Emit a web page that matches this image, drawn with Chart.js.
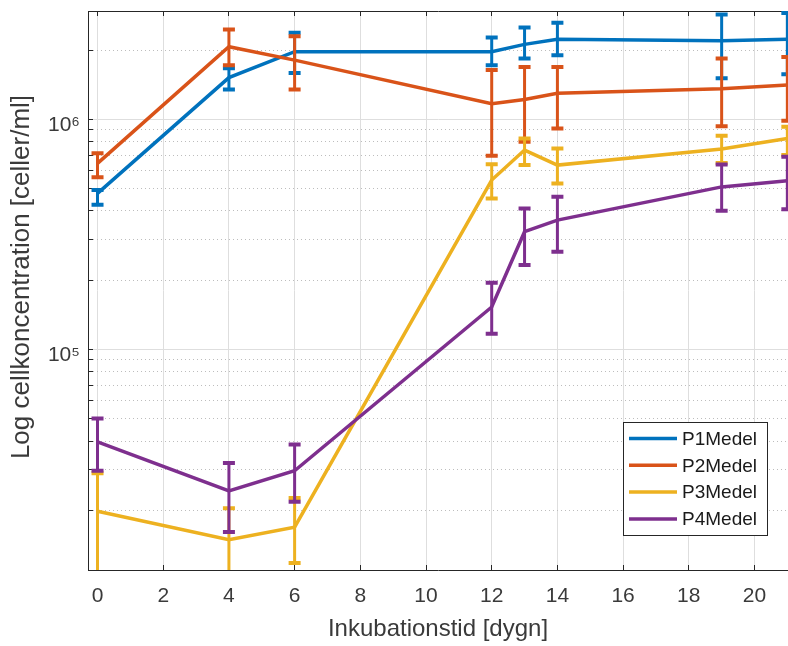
<!DOCTYPE html>
<html>
<head>
<meta charset="utf-8">
<script src="https://cdn.jsdelivr.net/npm/chart.js@4.4.1/dist/chart.umd.min.js"></script>
<style>
  html, body { margin: 0; padding: 0; background: #ffffff; }
  #wrap { width: 788px; height: 646px; }
</style>
</head>
<body>
<div id="wrap"><canvas id="chart" width="788" height="646"></canvas></div>
<script>
// Incubation days
const days = [0, 4, 6, 12, 13, 14, 19, 21];

// Series names
const seriesNames = ['P1Medel', 'P2Medel', 'P3Medel', 'P4Medel'];

// Mean cell concentration (cells/ml) and error-bar limits per series
const p1Mean = [4.77e5, 1.52e6, 1.97e6, 1.97e6, 2.12e6, 2.23e6, 2.20e6, 2.23e6];
const p1Low  = [4.26e5, 1.35e6, 1.59e6, 1.72e6, 1.84e6, 1.90e6, 1.51e6, 1.57e6];
const p1High = [4.93e5, 1.67e6, 2.38e6, 2.27e6, 2.51e6, 2.63e6, 2.86e6, 2.90e6];

const p2Mean = [6.44e5, 2.07e6, 1.81e6, 1.17e6, 1.22e6, 1.30e6, 1.36e6, 1.41e6];
const p2Low  = [5.60e5, 1.72e6, 1.35e6, 6.95e5, 7.99e5, 9.14e5, 9.35e5, 9.86e5];
const p2High = [7.12e5, 2.46e6, 2.30e6, 1.64e6, 1.69e6, 1.69e6, 1.84e6, 1.87e6];

const p3Mean = [1.98e4, 1.49e4, 1.69e4, 5.45e5, 7.36e5, 6.33e5, 7.43e5, 8.27e5];
const p3Low  = [1.07e4, 9.5e3,  1.18e4, 4.53e5, 6.33e5, 5.27e5, 6.46e5, 7.00e5];
const p3High = [2.90e4, 2.04e4, 2.26e4, 6.39e5, 8.27e5, 7.48e5, 8.49e5, 9.29e5];

const p4Mean = [3.97e4, 2.43e4, 2.97e4, 1.53e5, 3.25e5, 3.65e5, 5.09e5, 5.41e5];
const p4Low  = [2.97e4, 1.61e4, 2.18e4, 1.17e5, 2.33e5, 2.66e5, 4.01e5, 4.07e5];
const p4High = [5.01e4, 3.21e4, 3.86e4, 1.95e5, 4.10e5, 4.61e5, 6.37e5, 6.88e5];

// Axis ticks
const xTickValues = [0, 2, 4, 6, 8, 10, 12, 14, 16, 18, 20];
const yTickValues = [2e4, 3e4, 4e4, 5e4, 6e4, 7e4, 8e4, 9e4,
                     1e5, 2e5, 3e5, 4e5, 5e5, 6e5, 7e5, 8e5, 9e5,
                     1e6, 2e6];
const yDecades = [1e5, 1e6];
const yDecadeLabels = ['10\u2075', '10\u2076'];

// Axis limits
const xMin = -0.29, xMax = 21.02;
const yMin = 1.1e4, yMax = 2.96e6;

const colors = ['#0072BD', '#D95319', '#EDB120', '#7E2F8E'];
const means = [p1Mean, p2Mean, p3Mean, p4Mean];
const lows = [p1Low, p2Low, p3Low, p4Low];
const highs = [p1High, p2High, p3High, p4High];

const FONT = "'Liberation Sans', Arial, Helvetica, sans-serif";
Chart.defaults.font.family = FONT;

const axisColor = '#262626';
const textColor = '#3a3a3a';

const isDecade = v => yDecades.includes(v);

// Vertical error bars with caps, drawn right after each series line
const errorBars = {
  id: 'errorBars',
  afterDatasetDraw(chart, args) {
    const i = args.index;
    const {ctx, chartArea: a, scales: {x, y}} = chart;
    const ds = chart.data.datasets[i];
    ctx.save();
    ctx.beginPath();
    ctx.rect(a.left, a.top, a.right - a.left, a.bottom - a.top);
    ctx.clip();
    ctx.strokeStyle = ds.borderColor;
    ctx.lineCap = 'butt';
    const cap = 6;
    days.forEach((d, k) => {
      const px = x.getPixelForValue(d);
      const yl = y.getPixelForValue(lows[i][k]);
      const yh = y.getPixelForValue(highs[i][k]);
      ctx.lineWidth = 3;
      ctx.beginPath();
      ctx.moveTo(px, yl); ctx.lineTo(px, yh);
      ctx.stroke();
      ctx.lineWidth = 4;
      ctx.beginPath();
      ctx.moveTo(px - cap, yl); ctx.lineTo(px + cap, yl);
      ctx.moveTo(px - cap, yh); ctx.lineTo(px + cap, yh);
      ctx.stroke();
    });
    ctx.restore();
  }
};

// Rotated y-axis title and boxed legend inside the plot
const annotations = {
  id: 'annotations',
  afterDraw(chart) {
    const {ctx, chartArea: a} = chart;
    ctx.save();
    ctx.translate(22, 277);
    ctx.rotate(-Math.PI / 2);
    ctx.font = '26px ' + FONT;
    ctx.fillStyle = textColor;
    ctx.textAlign = 'center';
    ctx.textBaseline = 'middle';
    ctx.fillText('Log cellkoncentration [celler/ml]', 0, 0);
    ctx.restore();

    const w = 144, h = 113;
    const left = a.right - 21 - w;
    const top = a.bottom - 35 - h;
    ctx.save();
    ctx.fillStyle = '#ffffff';
    ctx.fillRect(left, top, w, h);
    ctx.strokeStyle = axisColor;
    ctx.lineWidth = 1;
    ctx.strokeRect(Math.round(left) + 0.5, Math.round(top) + 0.5, w, h);
    ctx.font = '19px ' + FONT;
    ctx.textAlign = 'left';
    ctx.textBaseline = 'middle';
    chart.data.datasets.forEach((ds, i) => {
      const cy = top + 16.5 + i * 26.8;
      ctx.strokeStyle = ds.borderColor;
      ctx.lineWidth = 3.5;
      ctx.beginPath();
      ctx.moveTo(left + 6, cy);
      ctx.lineTo(left + 54, cy);
      ctx.stroke();
      ctx.fillStyle = '#1a1a1a';
      ctx.fillText(ds.label, left + 59, cy + 1);
    });
    ctx.restore();
  }
};

const datasets = seriesNames.map((name, i) => ({
  label: name,
  data: days.map((d, k) => ({x: d, y: means[i][k]})),
  borderColor: colors[i],
  backgroundColor: colors[i],
  borderWidth: 3.5,
  pointRadius: 0,
  tension: 0,
  fill: false,
  order: seriesNames.length - i
}));

new Chart(document.getElementById('chart'), {
  type: 'line',
  data: { datasets },
  plugins: [errorBars, annotations],
  options: {
    responsive: false,
    animation: false,
    layout: { padding: { top: 11, right: 0, bottom: 0, left: 0 } },
    plugins: {
      legend: { display: false },
      tooltip: { enabled: false }
    },
    scales: {
      x: {
        type: 'linear',
        position: 'bottom',
        min: xMin,
        max: xMax,
        afterBuildTicks: s => { s.ticks = xTickValues.map(v => ({value: v})); },
        afterFit: s => { s.height = 76; s.paddingLeft = 0; s.paddingRight = 0; },
        ticks: {
          autoSkip: false,
          maxRotation: 0,
          padding: 18.4,
          color: textColor,
          font: { size: 21 },
          callback: v => String(v)
        },
        grid: { color: '#dedede', lineWidth: 1, tickLength: -5, tickColor: axisColor, tickWidth: 1 },
        border: { display: true, color: axisColor, width: 1 },
        title: {
          display: true,
          text: 'Inkubationstid [dygn]',
          color: textColor,
          font: { size: 24 },
          padding: { top: 0, bottom: 2 }
        }
      },
      xTop: {
        type: 'linear',
        position: 'top',
        min: xMin,
        max: xMax,
        afterBuildTicks: s => { s.ticks = xTickValues.map(v => ({value: v})); },
        afterFit: s => { s.height = 0; s.paddingLeft = 0; s.paddingRight = 0; },
        ticks: { display: false },
        grid: { drawOnChartArea: false, tickLength: -5, tickColor: axisColor, tickWidth: 1 },
        border: { display: true, color: axisColor, width: 1 }
      },
      y: {
        type: 'logarithmic',
        position: 'left',
        min: yMin,
        max: yMax,
        afterBuildTicks: s => { s.ticks = yTickValues.map(v => ({value: v})); },
        afterFit: s => { s.width = 88; s.paddingTop = 0; s.paddingBottom = 0; },
        ticks: {
          autoSkip: false,
          padding: 13,
          labelOffset: 6,
          color: textColor,
          font: { size: 21 },
          callback: v => {
            const k = yDecades.indexOf(v);
            return k >= 0 ? yDecadeLabels[k] : '';
          }
        },
        grid: {
          color: c => (c.type === 'tick' && isDecade(c.tick.value)) ? '#dedede' : '#bdbdbd',
          lineWidth: 1,
          tickLength: -5,
          tickColor: axisColor,
          tickWidth: 1
        },
        border: {
          display: true,
          color: axisColor,
          width: 1,
          dash: c => (c.type === 'tick' && !isDecade(c.tick.value)) ? [1, 3] : []
        }
      }
    }
  }
});
</script>
</body>
</html>
